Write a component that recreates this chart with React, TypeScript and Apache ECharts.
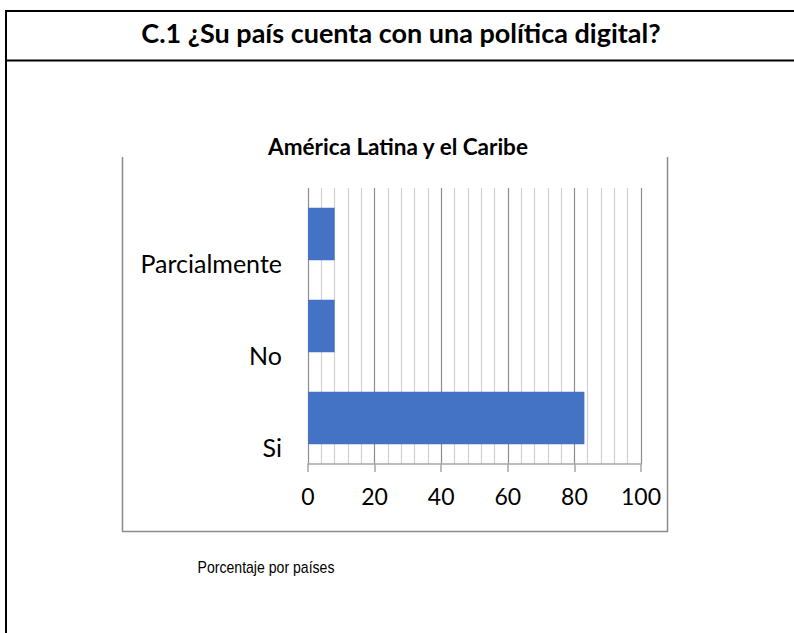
import React, { useEffect, useRef } from "react";
import * as echarts from "echarts";

const mainTitle = "C.1 ¿Su país cuenta con una política digital?";
const chartTitle = "América Latina y el Caribe";
const footnote = "Porcentaje por países";
const categories = ["Si", "No", "Parcialmente"];
const values = [83, 8, 8];
const xTicks = [0, 20, 40, 60, 80, 100];

export default function App() {
  const ref = useRef<HTMLDivElement>(null);
  useEffect(() => {
    if (!ref.current) return;
    const chart = echarts.init(ref.current, null, { renderer: "svg" });
    const font = "Lato";
    chart.setOption({
      animation: false,
      backgroundColor: "#ffffff",
      title: [
        {
          text: mainTitle,
          left: 396,
          top: 14,
          textAlign: "center",
          textStyle: { fontFamily: font, fontWeight: "bold", fontSize: 27, color: "#000" },
        },
        {
          text: chartTitle,
          left: 393,
          top: 130,
          textAlign: "center",
          textStyle: { fontFamily: font, fontWeight: "bold", fontSize: 22.5, color: "#000" },
        },
      ],
      graphic: [
        { type: "line", shape: { x1: 5, y1: 11, x2: 794, y2: 11 }, style: { stroke: "#000", lineWidth: 2 } },
        { type: "line", shape: { x1: 5, y1: 60.5, x2: 794, y2: 60.5 }, style: { stroke: "#000", lineWidth: 2 } },
        { type: "line", shape: { x1: 6, y1: 10, x2: 6, y2: 633 }, style: { stroke: "#000", lineWidth: 2 } },
        {
          type: "polyline",
          shape: { points: [[122.5, 157], [122.5, 531.5], [667.5, 531.5], [667.5, 157]] },
          style: { stroke: "#8c8c8c", lineWidth: 1.5, fill: "none" },
        },
        {
          type: "text",
          x: 266,
          y: 567,
          scaleX: 0.88,
          style: {
            text: footnote,
            fontFamily: "Liberation Sans",
            fontSize: 16,
            fill: "#000",
            align: "center",
            verticalAlign: "middle",
          },
        },
      ],
      grid: { left: 308, right: 153, top: 188, bottom: 169 },
      xAxis: {
        type: "value",
        min: 0,
        max: 100,
        interval: 20,
        axisLine: { show: true, lineStyle: { color: "#a6a6a6", width: 1.5 } },
        axisTick: { show: true, length: 8, lineStyle: { color: "#a6a6a6", width: 1.5 } },
        axisLabel: {
          margin: 20,
          fontFamily: font,
          fontSize: 23,
          color: "#000",
          formatter: (v: number) => (xTicks.includes(v) ? String(v) : ""),
        },
        splitLine: { show: true, lineStyle: { color: "#8c8c8c", width: 1.2 } },
        minorTick: { show: false, splitNumber: 5 },
        minorSplitLine: { show: true, lineStyle: { color: "#d0d0d0", width: 1.2 } },
      },
      yAxis: {
        type: "category",
        data: categories,
        axisLine: { show: false },
        axisTick: { show: false },
        axisLabel: {
          interval: 0,
          hideOverlap: false,
          margin: 26,
          fontFamily: font,
          fontSize: 25,
          lineHeight: 58,
          color: "#000",
          formatter: (v: string) => "\n" + v,
        },
      },
      series: [
        {
          type: "bar",
          data: values,
          barCategoryGap: "43%",
          itemStyle: { color: "#4472C4" },
        },
      ],
    });
    return () => chart.dispose();
  }, []);
  return (
    <div
      ref={ref}
      style={{ position: "fixed", left: 0, top: 0, width: 794, height: 633 }}
    />
  );
}
